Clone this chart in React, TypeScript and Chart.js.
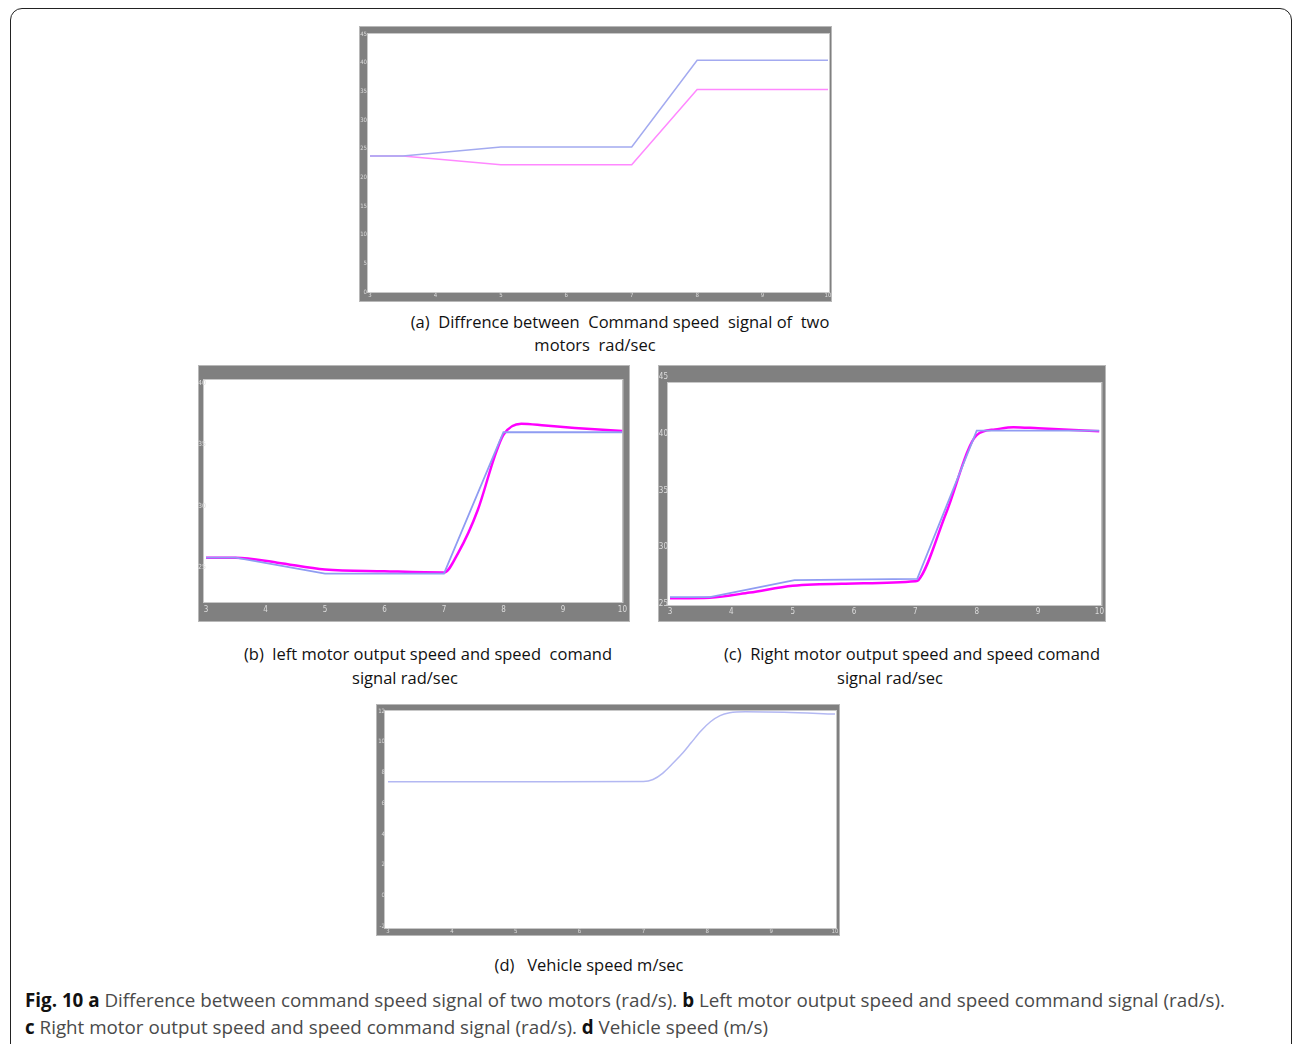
import React, { useEffect, useRef } from "react";
import { Chart, registerables } from "chart.js";
Chart.register(...registerables);

// ---------- data ----------
const X_TICKS = [3, 4, 5, 6, 7, 8, 9, 10];

// (a) command speed signals
const A_TIME = [3, 3.5, 5, 7, 8, 10];
const A_RIGHT_CMD = [23.7, 23.7, 25.3, 25.3, 40.4, 40.4];
const A_LEFT_CMD = [23.7, 23.7, 22.2, 22.2, 35.3, 35.3];
const A_Y_TICKS = [0, 5, 10, 15, 20, 25, 30, 35, 40, 45];

// (b) left motor
const B_CMD_TIME = [3, 3.5, 5, 7, 8, 10];
const B_CMD = [25.8, 25.8, 24.5, 24.5, 36.0, 36.0];
const B_OUT_TIME = [3, 3.5, 4.2, 5, 6, 7, 7.24, 7.57, 7.85, 8.0, 8.3, 8.7, 9.2, 10];
const B_OUT = [25.8, 25.8, 25.4, 24.85, 24.7, 24.6, 26.2, 29.7, 34.0, 35.8, 36.7, 36.55, 36.35, 36.1];
const B_Y_TICKS = [25, 30, 35, 40];

// (c) right motor
const C_CMD_TIME = [3, 3.65, 5.03, 7.03, 8.0, 10];
const C_CMD = [25.6, 25.6, 27.1, 27.2, 40.3, 40.3];
const C_OUT_TIME = [3, 3.65, 4.3, 5, 6, 7, 7.05, 7.5, 8, 8.3, 8.6, 9, 10];
const C_OUT = [25.5, 25.55, 26.0, 26.6, 26.8, 27.0, 27.1, 33.0, 39.9, 40.4, 40.6, 40.5, 40.25];
const C_Y_TICKS = [25, 30, 35, 40, 45];

// (d) vehicle speed
const D_TIME = [3, 5, 7, 7.15, 7.3, 7.45, 7.6, 7.75, 7.9, 8.05, 8.2, 8.35, 8.6, 9.2, 10];
const D_SPEED = [7.4, 7.41, 7.42, 7.55, 7.95, 8.55, 9.2, 9.95, 10.7, 11.3, 11.7, 11.88, 11.95, 11.92, 11.8];
const D_Y_TICKS = [-2, 0, 2, 4, 6, 8, 10, 12];

const pts = (xs: number[], ys: number[]) => xs.map((x, i) => ({ x, y: ys[i] }));

// ---------- plugin ----------
const framePlugin = {
  id: "frameBg",
  beforeDraw(chart: any, _args: any, opts: any) {
    const { ctx, chartArea: a, width, height } = chart;
    const e = opts.ext || [0, 0, 0, 0];
    ctx.save();
    ctx.fillStyle = "#808080";
    ctx.fillRect(0, 0, width, height);
    ctx.strokeStyle = "#b8b8b8";
    ctx.lineWidth = 1;
    ctx.strokeRect(0.5, 0.5, width - 1, height - 1);
    ctx.fillStyle = "#ffffff";
    ctx.fillRect(a.left - e[0], a.top - e[1], a.right - a.left + e[0] + e[2], a.bottom - a.top + e[1] + e[3]);
    ctx.strokeStyle = "#c8c8c8";
    ctx.strokeRect(a.left - e[0] - 0.5, a.top - e[1] - 0.5, a.right - a.left + e[0] + e[2] + 1, a.bottom - a.top + e[1] + e[3] + 1);
    ctx.restore();
  },
};

type Series = { data: { x: number; y: number }[]; color: string; width: number; smooth?: boolean };

type PanelProps = {
  left: number; top: number; w: number; h: number;
  bands: { left: number; right: number; top: number; bottom: number };
  ext: number[];
  yMin: number; yMax: number; yTicks: number[];
  series: Series[];
  fontSize: number; yFontSize: number; xPad: number; yPad: number; yAlign?: string;
};

function Panel(p: PanelProps) {
  const ref = useRef<HTMLCanvasElement | null>(null);
  useEffect(() => {
    if (!ref.current) return;
    const fam = "DejaVu Sans Condensed, DejaVu Sans";
    const chart = new Chart(ref.current, {
      type: "line",
      data: {
        datasets: p.series.map((s) => ({
          data: s.data,
          borderColor: s.color,
          borderWidth: s.width,
          pointRadius: 0,
          fill: false,
          tension: 0,
          cubicInterpolationMode: s.smooth ? "monotone" : "default",
        })) as any,
      },
      options: {
        animation: false,
        responsive: false,
        devicePixelRatio: 1,
        layout: { padding: { left: 0, right: p.bands.right, top: p.bands.top, bottom: 0 } },
        plugins: {
          legend: { display: false },
          tooltip: { enabled: false },
          frameBg: { ext: p.ext },
        } as any,
        scales: {
          x: {
            type: "linear",
            min: 3,
            max: 10,
            grid: { display: false, drawTicks: false },
            border: { display: false },
            ticks: { font: { family: fam, size: p.fontSize }, color: "#dcdcdc", padding: p.xPad, maxRotation: 0, autoSkip: false },
            afterBuildTicks: (s: any) => { s.ticks = X_TICKS.map((v) => ({ value: v })); },
            afterFit: (s: any) => { s.height = p.bands.bottom; },
          },
          y: {
            type: "linear",
            min: p.yMin,
            max: p.yMax,
            grid: { display: false, drawTicks: false },
            border: { display: false },
            ticks: {
              font: { family: fam, size: p.yFontSize }, color: "#dcdcdc", padding: p.yPad, autoSkip: false,
              crossAlign: p.yAlign || "near",
            },
            afterBuildTicks: (s: any) => { s.ticks = p.yTicks.map((v) => ({ value: v })); },
            afterFit: (s: any) => { s.width = p.bands.left; },
          },
        },
      } as any,
      plugins: [framePlugin],
    });
    return () => chart.destroy();
  }, []);
  return (
    <canvas
      ref={ref}
      width={p.w}
      height={p.h}
      style={{ position: "absolute", left: p.left, top: p.top, width: p.w, height: p.h }}
    />
  );
}

const capStyle: React.CSSProperties = {
  position: "absolute",
  fontFamily: "'Open Sans', sans-serif",
  fontSize: 16.5,
  color: "#111",
  whiteSpace: "pre",
  transform: "translate(-50%, -50%)",
  lineHeight: "22px",
};

function Cap({ x, y, text }: { x: number; y: number; text: string }) {
  return <div style={{ ...capStyle, left: x, top: y }}>{text}</div>;
}

export default function App() {
  const BLUE = "#a3aaf0";
  const PINK_A = "#ff88ff";
  const BLUE_B = "#8f9cf2";
  const MAG = "#ff00ff";
  return (
    <div style={{ position: "absolute", left: 0, top: 0, width: 1292, height: 1044, overflow: "hidden", background: "#fff" }}>
      <div
        style={{
          position: "absolute", left: 10, top: 8, width: 1282, height: 1100,
          border: "1px solid #222", borderRadius: 12, boxSizing: "border-box",
        }}
      />
      <Panel
        left={359} top={26} w={473} h={276}
        bands={{ left: 11, right: 4, top: 8, bottom: 10 }} ext={[2, 0, 1, 0]}
        yMin={0} yMax={45} yTicks={A_Y_TICKS}
        series={[
          { data: pts(A_TIME, A_RIGHT_CMD), color: BLUE, width: 1.5 },
          { data: pts(A_TIME, A_LEFT_CMD), color: PINK_A, width: 1.5 },
        ]}
        fontSize={6} yFontSize={6} xPad={0} yPad={3}
      />
      <Panel
        left={198} top={365} w={432} h={257}
        bands={{ left: 8, right: 5, top: 15, bottom: 20 }} ext={[2, 0, 0, 0]}
        yMin={22.2} yMax={40.25} yTicks={B_Y_TICKS}
        series={[
          { data: pts(B_CMD_TIME, B_CMD), color: BLUE_B, width: 1.8 },
          { data: pts(B_OUT_TIME, B_OUT), color: MAG, width: 2.5, smooth: true },
        ]}
        fontSize={8} yFontSize={7} xPad={3} yPad={0} yAlign="far"
      />
      <Panel
        left={658} top={365} w={448} h={257}
        bands={{ left: 12, right: 5, top: 18, bottom: 17 }} ext={[2, 0, 2, 0]}
        yMin={24.9} yMax={44.5} yTicks={C_Y_TICKS}
        series={[
          { data: pts(C_CMD_TIME, C_CMD), color: BLUE_B, width: 1.8 },
          { data: pts(C_OUT_TIME, C_OUT), color: MAG, width: 2.5, smooth: true },
        ]}
        fontSize={8} yFontSize={8} xPad={2} yPad={2}
      />
      <Panel
        left={376} top={704} w={464} h={232}
        bands={{ left: 12, right: 5, top: 7, bottom: 8 }} ext={[3, 0, 1, 0]}
        yMin={-2.1} yMax={12} yTicks={D_Y_TICKS}
        series={[{ data: pts(D_TIME, D_SPEED), color: "#b3b8f2", width: 1.5, smooth: true }]}
        fontSize={6} yFontSize={6} xPad={0} yPad={3}
      />

      <Cap x={620} y={322} text={"(a)  Diffrence between  Command speed  signal of  two"} />
      <Cap x={595} y={345} text={"motors  rad/sec"} />
      <Cap x={428} y={654} text={"(b)  left motor output speed and speed  comand"} />
      <Cap x={405} y={678} text={"signal rad/sec"} />
      <Cap x={912} y={654} text={"(c)  Right motor output speed and speed comand"} />
      <Cap x={890} y={678} text={"signal rad/sec"} />
      <Cap x={589} y={965} text={"(d)   Vehicle speed m/sec"} />

      <div
        style={{
          position: "absolute", left: 25, top: 987, width: 1260,
          fontFamily: "'Open Sans', sans-serif", fontSize: 18.8, lineHeight: "27px", color: "#4a4a4a",
          whiteSpace: "nowrap",
        }}
      >
        <b style={{ color: "#111" }}>Fig. 10 a</b> Difference between command speed signal of two motors (rad/s).{" "}
        <b style={{ color: "#111" }}>b</b> Left motor output speed and speed command signal (rad/s).
        <br />
        <b style={{ color: "#111" }}>c</b> Right motor output speed and speed command signal (rad/s).{" "}
        <b style={{ color: "#111" }}>d</b> Vehicle speed (m/s)
      </div>
    </div>
  );
}
